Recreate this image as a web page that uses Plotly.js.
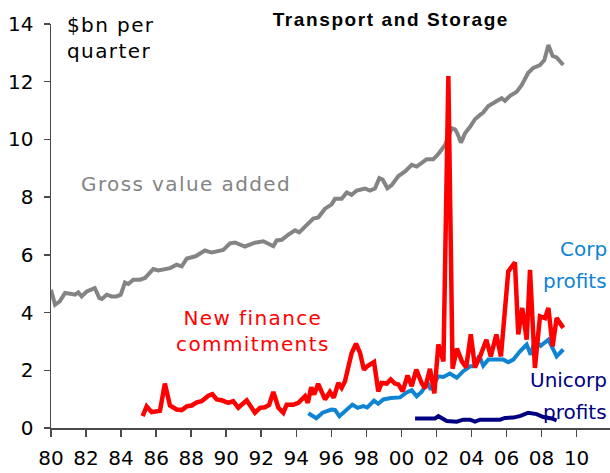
<!DOCTYPE html>
<html><head><meta charset="utf-8">
<script src="https://cdn.plot.ly/plotly-3.0.1.min.js"></script>
<style>
html,body{margin:0;padding:0;overflow:hidden;background:#fff}
.annotation-text {letter-spacing:1.4px;}
.gtitle {letter-spacing:1.6px;}
.annotation[data-index="3"] .annotation-text,
.annotation[data-index="4"] .annotation-text,
.annotation[data-index="5"] .annotation-text,
.annotation[data-index="6"] .annotation-text {letter-spacing:0px;}
</style></head><body><div id="chart" style="width:610px;height:473px"></div>
<script>
const gvaYears = [1980.0,1980.23,1980.5,1980.8,1981.1,1981.37,1981.56,1981.75,1982.04,1982.5,1982.76,1982.9,1983.18,1983.46,1983.75,1983.98,1984.22,1984.41,1984.7,1985.08,1985.37,1985.55,1985.84,1986.12,1986.5,1986.8,1987.17,1987.46,1987.75,1988.25,1988.79,1989.17,1989.46,1989.83,1990.22,1990.5,1991.07,1991.64,1992.12,1992.69,1992.88,1993.17,1993.55,1993.93,1994.17,1994.6,1994.97,1995.26,1995.64,1996.02,1996.21,1996.59,1996.88,1997.16,1997.45,1997.92,1998.2,1998.49,1998.74,1998.93,1999.2,1999.45,1999.83,2000.21,2000.59,2000.87,2001.44,2001.82,2002.11,2002.49,2002.87,2003.06,2003.19,2003.4,2003.63,2003.92,2004.2,2004.49,2004.67,2004.96,2005.25,2005.72,2005.91,2006.2,2006.58,2006.87,2007.24,2007.53,2007.91,2008.16,2008.39,2008.63,2008.86,2009.24];
const gvaValues = [4.79,4.27,4.39,4.68,4.65,4.62,4.70,4.56,4.73,4.85,4.50,4.47,4.62,4.56,4.56,4.62,5.04,4.99,5.14,5.14,5.20,5.31,5.51,5.46,5.52,5.54,5.66,5.60,5.87,5.95,6.15,6.08,6.12,6.17,6.40,6.43,6.29,6.42,6.47,6.30,6.50,6.52,6.70,6.85,6.78,7.04,7.26,7.30,7.60,7.75,7.94,7.94,8.16,8.08,8.23,8.30,8.23,8.30,8.66,8.61,8.31,8.42,8.73,8.89,9.12,9.06,9.31,9.31,9.50,9.81,10.39,10.35,10.21,9.89,10.21,10.44,10.70,10.85,10.93,11.16,11.27,11.43,11.34,11.51,11.65,11.89,12.31,12.48,12.58,12.75,13.27,12.89,12.84,12.58];

const nfcYears = [1985.23,1985.46,1985.75,1986.0,1986.22,1986.5,1986.79,1987.17,1987.46,1987.75,1988.03,1988.32,1988.6,1988.98,1989.21,1989.46,1989.74,1990.12,1990.4,1990.69,1991.17,1991.64,1991.93,1992.21,1992.45,1992.69,1992.98,1993.26,1993.45,1993.83,1994.12,1994.5,1994.66,1994.85,1995.02,1995.25,1995.64,1995.92,1996.14,1996.4,1996.59,1996.78,1997.16,1997.41,1997.64,1997.86,1998.05,1998.44,1998.68,1998.87,1999.16,1999.39,1999.63,1999.83,2000.07,2000.35,2000.59,2000.85,2001.16,2001.35,2001.63,2001.88,2002.11,2002.4,2002.68,2002.92,2003.17,2003.46,2003.7,2003.96,2004.2,2004.49,2004.85,2005.1,2005.42,2005.68,2006.1,2006.48,2006.67,2006.9,2007.15,2007.34,2007.62,2007.91,2008.2,2008.39,2008.63,2008.86,2009.24];
const nfcValues = [0.41,0.75,0.55,0.58,0.60,1.54,0.78,0.64,0.62,0.75,0.78,0.89,0.93,1.12,1.17,0.99,0.96,0.87,0.93,0.70,0.96,0.53,0.70,0.72,0.80,1.25,0.70,0.53,0.81,0.81,0.87,1.10,0.87,1.41,1.16,1.53,0.99,1.25,1.05,1.56,1.39,1.62,2.60,2.92,2.60,2.02,2.14,2.29,1.27,1.56,1.54,1.68,1.54,1.51,1.27,1.82,1.45,2.02,1.55,1.38,2.05,1.20,2.90,2.31,12.2,2.05,2.75,2.30,2.10,3.25,2.10,2.48,3.06,2.48,3.24,2.48,5.43,5.74,3.24,4.16,3.06,5.48,2.08,3.87,3.81,4.16,2.83,3.81,3.47];

const corpYears = [1994.69,1995.14,1995.5,1996.0,1996.21,1996.46,1996.78,1997.2,1997.5,1997.83,1998.05,1998.44,1998.68,1998.97,1999.4,1999.92,2000.3,2000.59,2000.87,2001.16,2001.5,2001.67,2002.11,2002.39,2002.77,2003.16,2003.53,2003.92,2004.2,2004.44,2004.67,2004.96,2005.44,2005.82,2006.1,2006.39,2006.77,2007.15,2007.38,2007.62,2007.95,2008.39,2008.86,2009.24];
const corpValues = [0.51,0.34,0.53,0.64,0.63,0.41,0.58,0.81,0.70,0.76,0.71,0.95,0.84,0.99,1.04,1.06,1.23,1.31,1.10,1.26,1.57,1.33,1.79,1.77,1.89,1.74,1.97,2.14,2.14,2.51,2.16,2.37,2.37,2.37,2.28,2.37,2.66,2.89,2.54,3.04,2.85,3.06,2.48,2.72];

const unincYears = [2000.78,2001.92,2002.11,2002.4,2002.59,2003.16,2003.53,2003.92,2004.2,2004.49,2005.63,2005.91,2006.39,2006.8,2007.24,2007.72,2008.1,2008.58,2008.86];
const unincValues = [0.33,0.33,0.41,0.30,0.24,0.22,0.29,0.29,0.22,0.29,0.29,0.35,0.36,0.42,0.53,0.48,0.38,0.33,0.26];

const xTickVals = [1980,1982,1984,1986,1988,1990,1992,1994,1996,1998,2000,2002,2004,2006,2008,2010];
const xTickText = ["80","82","84","86","88","90","92","94","96","98","00","02","04","06","08","10"];
const yTickVals = [0,2,4,6,8,10,12,14];

const FONT = "DejaVu Sans, Verdana, sans-serif";
const axisColor = "#4a4a4a";

const mk = (x, y, color, w) => ({x: x, y: y, type: "scatter", mode: "lines",
  line: {color: color, width: w, shape: "linear"}, hoverinfo: "skip"});

const data = [
  mk(gvaYears, gvaValues, "#848484", 4),
  mk(corpYears, corpValues, "#0f84d2", 4),
  mk(unincYears, unincValues, "#000080", 4),
  mk(nfcYears, nfcValues, "#ff0000", 4.5)
];

const ann = (x, y, text, color, xanchor, align) => ({x: x, y: y, xref: "x", yref: "y",
  text: text, showarrow: false, xanchor: xanchor, yanchor: "middle", align: align,
  font: {family: FONT, size: 20, color: color}});

const layout = {
  width: 610, height: 473,
  margin: {l: 51, r: 0, t: 24, b: 45, pad: 0},
  paper_bgcolor: "#ffffff", plot_bgcolor: "#ffffff",
  showlegend: false,
  title: {text: "<b>Transport and Storage</b>", x: 0.608, xref: "paper", xanchor: "center",
          y: 0.96, yref: "container", yanchor: "middle",
          font: {family: "Liberation Sans, Arial, sans-serif", size: 19, color: "#000"}},
  xaxis: {range: [1980, 2011.906], tickmode: "array", tickvals: xTickVals, ticktext: xTickText,
          showgrid: false, zeroline: false, showline: true, linecolor: axisColor, linewidth: 1.5,
          ticks: "outside", ticklen: 7, tickwidth: 1.5, tickcolor: axisColor, ticklabelstandoff: 4,
          tickfont: {family: FONT, size: 20, color: "#000"}, fixedrange: true},
  yaxis: {range: [0, 14], tickmode: "array", tickvals: yTickVals,
          showgrid: false, zeroline: false, showline: true, linecolor: axisColor, linewidth: 1.5,
          ticks: "outside", ticklen: 6, tickwidth: 1.5, tickcolor: axisColor, ticklabelstandoff: 6,
          tickfont: {family: FONT, size: 20, color: "#000"}, fixedrange: true},
  annotations: [
    ann(1980.8, 13.51, "$bn per<br>quarter", "#000", "left", "left"),
    ann(1981.6, 8.46, "Gross value added", "#848484", "left", "left"),
    ann(1991.53, 3.37, "New finance<br>commitments", "#ff0000", "center", "center"),
    ann(2008.94, 6.21, "Corp", "#0f84d2", "left", "left"),
    ann(2007.97, 5.10, "profits", "#0f84d2", "left", "left"),
    ann(2007.23, 1.68, "Unicorp", "#000080", "left", "left"),
    ann(2007.97, 0.57, "profits", "#000080", "left", "left")
  ]
};

Plotly.newPlot("chart", data, layout, {displayModeBar: false, staticPlot: true});
</script></body></html>
